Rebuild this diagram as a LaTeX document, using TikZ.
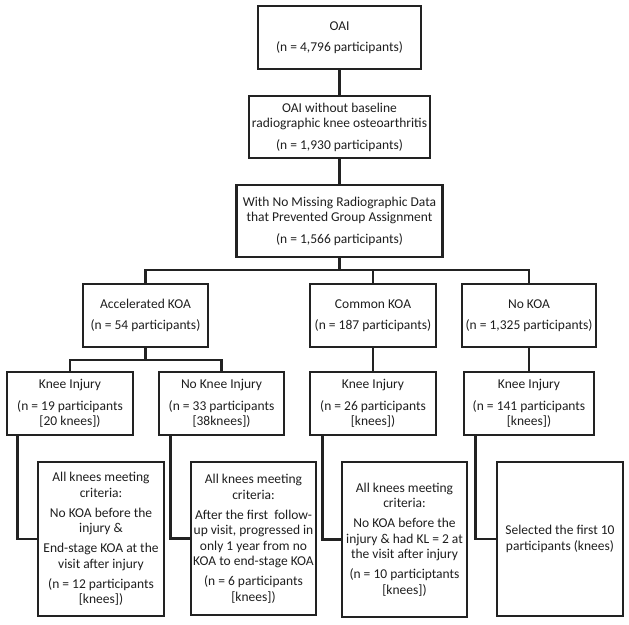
\documentclass[tikz,border=0pt]{standalone}
\usepackage{fontspec}
\setmainfont{Carlito}
\begin{document}
\begin{tikzpicture}[x=1pt,y=-1pt,
  box/.style={draw=linecol, line width=2.6pt, rectangle, inner sep=0pt, align=center,
    text=textcol, font=\fontsize{13.5}{15.5}\selectfont},
  conn/.style={draw=linecol, line width=2.6pt}]
\definecolor{linecol}{HTML}{222222}
\definecolor{textcol}{HTML}{1E1E1E}
\useasboundingbox (0,0) rectangle (629,624);
% level 1-3
\node[box, minimum width=163pt, minimum height=63pt] (oai) at (339.5,37.5) {OAI\\[6pt](n = 4,796 participants)};
\node[box, minimum width=181pt, minimum height=62pt] (b2) at (339.5,127) {OAI without baseline\\radiographic knee osteoarthritis\\[6pt](n = 1,930 participants)};
\node[box, minimum width=206pt, minimum height=72pt] (b3) at (339.5,221) {With No Missing Radiographic Data\\that Prevented Group Assignment\\[6pt](n = 1,566 participants)};
% level 4
\node[box, minimum width=125pt, minimum height=63pt] (acc) at (145.5,315.5) {Accelerated KOA\\[6pt](n = 54 participants)};
\node[box, minimum width=126pt, minimum height=63pt] (com) at (373,315.5) {Common KOA\\[6pt](n = 187 participants)};
\node[box, minimum width=134pt, minimum height=63pt] (nok) at (529,315.5) {No KOA\\[6pt](n = 1,325 participants)};
% level 5
\node[box, minimum width=126pt, minimum height=63pt] (ki1) at (70,403.5) {Knee Injury\\[6pt](n = 19 participants\\{}[20 knees])};
\node[box, minimum width=125pt, minimum height=63pt] (nki) at (221.5,403.5) {No Knee Injury\\[6pt](n = 33 participants\\{}[38knees])};
\node[box, minimum width=126pt, minimum height=63pt] (ki2) at (373,403.5) {Knee Injury\\[6pt](n = 26 participants\\{}[knees])};
\node[box, minimum width=130pt, minimum height=63pt] (ki3) at (529,403.5) {Knee Injury\\[6pt](n = 141 participants\\{}[knees])};
% level 6
\node[box, minimum width=126pt, minimum height=154pt] (fa) at (101,539) {All knees meeting\\criteria:\\[4.5pt]No KOA before the\\injury \&\\[4.5pt]End-stage KOA at the\\visit after injury\\[4.5pt](n = 12 participants\\{}[knees])};
\node[box, minimum width=125pt, minimum height=153pt] (fb) at (253.5,538.5) {All knees meeting\\criteria:\\[4.5pt]After the first\ \ follow-\\up visit, progressed in\\only 1 year from no\\KOA to end-stage KOA\\[4.5pt](n = 6 participants\\{}[knees])};
\node[box, minimum width=125pt, minimum height=155pt] (fc) at (404.5,539.5) {All knees meeting\\criteria:\\[4.5pt]No KOA before the\\injury \& had KL = 2 at\\the visit after injury\\[4.5pt](n = 10 participtants\\{}[knees])};
\node[box, minimum width=126pt, minimum height=154pt] (fd) at (560,539) {Selected the first 10\\participants (knees)};
% connectors
\coordinate (bar) at (339.5,270);
\coordinate (accbar) at (145.5,360);
\draw[conn] (oai) -- (b2);
\draw[conn] (b2) -- (b3);
\draw[conn] (b3.south) -- (bar);
\draw[conn] (acc.north) |- (bar) -| (nok.north);
\draw[conn] (com.north) -- (com.north |- bar);
\draw[conn] (acc.south) -- (accbar);
\draw[conn] (ki1.north) |- (accbar) -| (nki.north);
\draw[conn] (com) -- (ki2);
\draw[conn] (nok) -- (ki3);
\draw[conn] ([xshift=12pt]ki1.south west) |- (fa.west);
\draw[conn] ([xshift=13pt]nki.south west) |- (fb.west);
\draw[conn] ([xshift=14pt]ki2.south west) |- (fc.west);
\draw[conn] ([xshift=13pt]ki3.south west) |- (fd.west);
\end{tikzpicture}
\end{document}
